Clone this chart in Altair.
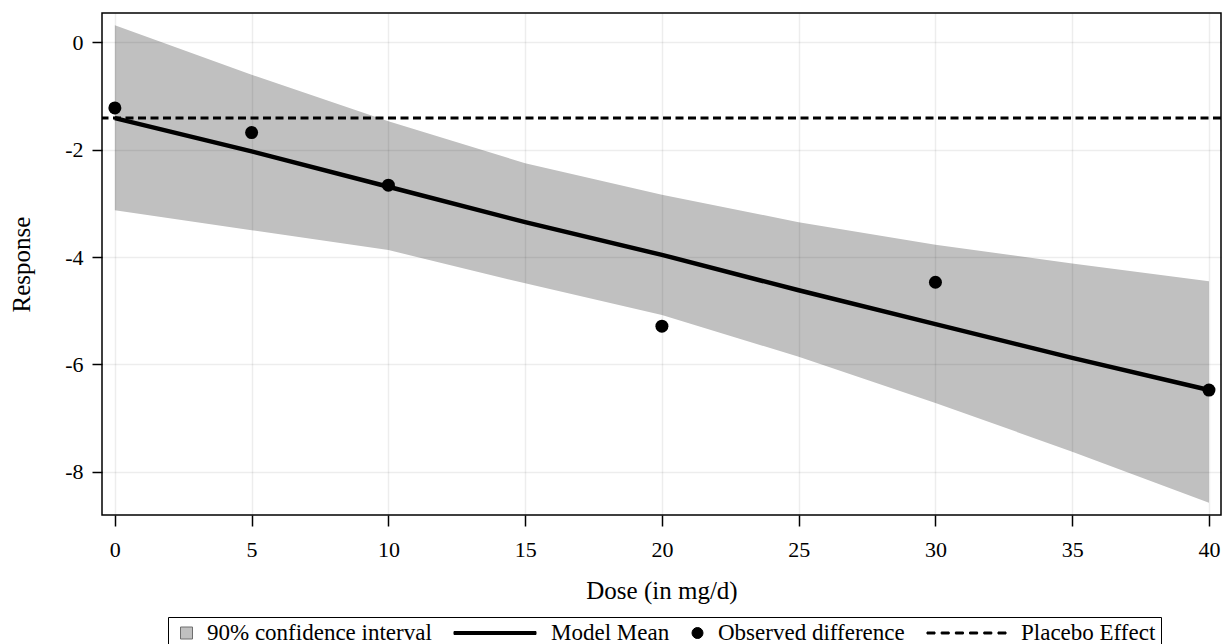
import altair as alt
import pandas as pd

# ---- data ----
dose_band = [0, 5, 10, 15, 20, 25, 30, 35, 40]
ci_upper = [0.32, -0.60, -1.47, -2.25, -2.84, -3.35, -3.77, -4.12, -4.45]
ci_lower = [-3.13, -3.50, -3.87, -4.49, -5.08, -5.86, -6.72, -7.63, -8.58]
model_mean = [-1.41, -2.03, -2.69, -3.35, -3.96, -4.62, -5.25, -5.88, -6.48]

dose_obs = [0, 5, 10, 20, 30, 40]
observed = [-1.22, -1.68, -2.66, -5.29, -4.47, -6.48]

placebo = [-1.41]

x_ticks = [0, 5, 10, 15, 20, 25, 30, 35, 40]
y_ticks = [-8, -6, -4, -2, 0]

series = ["90% confidence interval", "Model Mean", "Observed difference", "Placebo Effect"]

# ---- legend symbol styling ----
def dashed_path(n=6, start=-0.8778, dash=0.1778, gap=0.1378, half=0.0222):
    parts = []
    for i in range(n):
        x0 = start + i * (dash + gap)
        parts.append(f"M{x0:.4f},{-half:.4f}h{dash:.4f}v{2*half:.4f}h{-dash:.4f}Z")
    return "".join(parts)

leg_shapes = ["square", "M-0.882,-0.032H0.882V0.032H-0.882Z", "circle", dashed_path()]
leg_fills = ["#c0c0c0", "black", "black", "black"]
leg_strokes = ["#6e6e6e", "black", "black", "black"]
leg_sizes = [144, 8649, 121, 8100]

FONT = "Liberation Serif"

band_df = pd.DataFrame({"dose": dose_band, "lower": ci_lower, "upper": ci_upper, "mean": model_mean})
obs_df = pd.DataFrame({"dose": dose_obs, "obs": observed})
plc_df = pd.DataFrame({"placebo": placebo})
leg_df = pd.DataFrame({"series": series})

xscale = alt.Scale(domain=[-0.47, 40.44], nice=False, zero=False)
yscale = alt.Scale(domain=[-8.81, 0.55], nice=False, zero=False)

grid_common = dict(
    grid=True, gridColor="black", gridOpacity=0.07, gridWidth=1.5,
    domain=False, tickColor="black", tickWidth=1.5,
    labelFont=FONT, labelFontSize=22, labelColor="black",
    labelFlush=False, labelOverlap=False,
    titleFont=FONT, titleFontSize=25, titleFontWeight="normal", titleColor="black",
    labelExpr="'' + datum.value", zindex=1,
)

x_axis = alt.Axis(values=x_ticks, tickSize=11, labelPadding=13, title="Dose (in mg/d)",
                  titleY=83, titleBaseline="alphabetic", **grid_common)
y_axis = alt.Axis(values=y_ticks, tickSize=10, labelPadding=9, title="Response",
                  titleAngle=270, titleX=-72.5, titleY=251, titleAlign="center",
                  titleBaseline="alphabetic", **grid_common)

def X(field):
    return alt.X(field, type="quantitative", scale=xscale, axis=x_axis)

def Y(field):
    return alt.Y(field, type="quantitative", scale=yscale, axis=y_axis)

band = alt.Chart(band_df).mark_area(color="#c0c0c0", opacity=1).encode(
    x=X("dose"), y=Y("lower"), y2=alt.Y2("upper"))

mean_line = alt.Chart(band_df).mark_line(color="black", strokeWidth=4.5).encode(
    x=X("dose"), y=Y("mean"))

plc_rule = alt.Chart(plc_df).mark_rule(color="black", strokeWidth=3, strokeDash=[8, 4.5]).encode(
    y=Y("placebo"))

pts = alt.Chart(obs_df).mark_circle(color="black", size=169, opacity=1).encode(
    x=X("dose"), y=Y("obs"))

legend = alt.Legend(
    title=None, orient="none", legendX=66, legendY=604, direction="horizontal",
    padding=5, strokeColor="black", clipHeight=22, symbolOffset=2, labelOffset=9,
    columnPadding=14, labelFont=FONT, labelFontSize=23, labelColor="black",
    labelLimit=500, symbolStrokeWidth=1, symbolFillColor="#c0c0c0",
    symbolStrokeColor="black",
)

leg_layer = alt.Chart(leg_df).mark_point(filled=True, clip=True, strokeWidth=1, opacity=1).encode(
    x=alt.value(-1000), y=alt.value(-1000),
    fill=alt.Fill("series:N", scale=alt.Scale(domain=series, range=leg_fills), legend=legend),
    stroke=alt.Stroke("series:N", scale=alt.Scale(domain=series, range=leg_strokes), legend=legend),
    shape=alt.Shape("series:N", scale=alt.Scale(domain=series, range=leg_shapes), legend=legend),
    size=alt.Size("series:N", scale=alt.Scale(type="ordinal", domain=series, range=leg_sizes), legend=legend),
)

chart = alt.layer(band, mean_line, plc_rule, pts, leg_layer).properties(
    width=1119, height=502,
    autosize=alt.AutoSizeParams(type="none"),
    padding={"left": 102, "top": 13, "right": 5, "bottom": 129},
    background="white",
).configure_view(stroke="black", strokeWidth=1.5)

chart.save("out.html", embed_options={"renderer": "svg", "actions": False})
